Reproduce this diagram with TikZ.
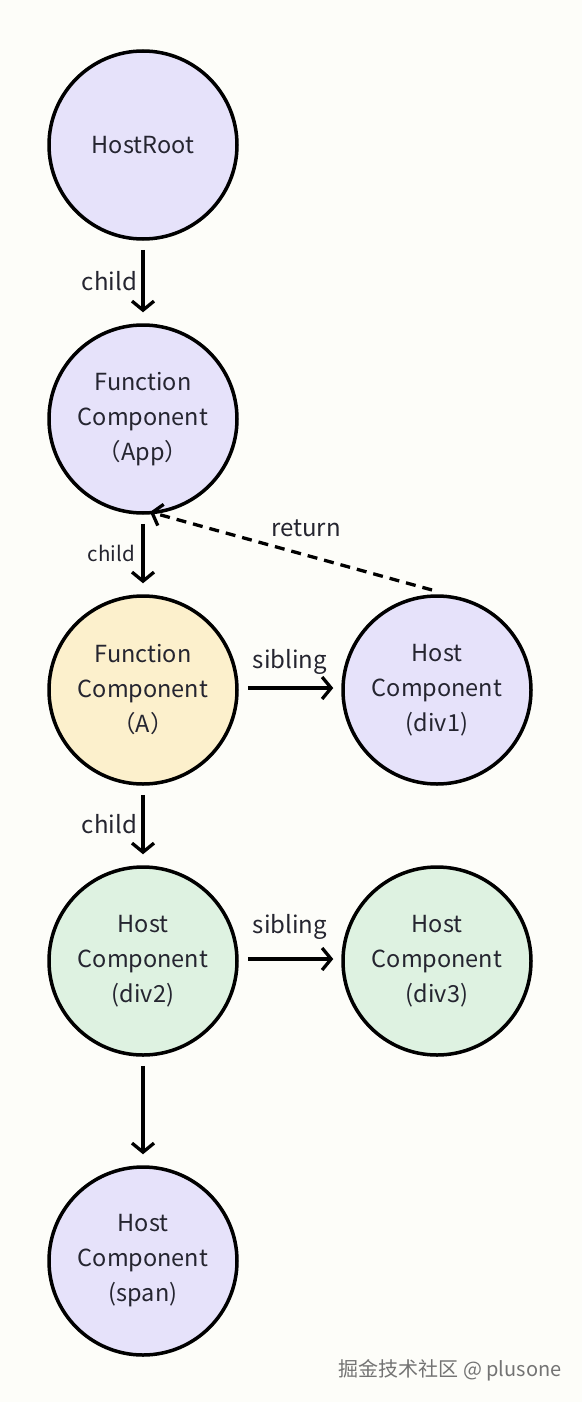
\documentclass[tikz,border=0pt]{standalone}
\usepackage{fontspec}
\setmainfont{Noto Sans CJK SC}
\usetikzlibrary{arrows.meta}
\definecolor{bg}{HTML}{FDFDF9}
\definecolor{lav}{HTML}{E6E2FA}
\definecolor{yel}{HTML}{FCF0CC}
\definecolor{grn}{HTML}{DEF2E1}
\definecolor{ink}{HTML}{252530}
\begin{document}
\begin{tikzpicture}[x=1pt,y=-1pt,
  fnode/.style={circle,draw=black,line width=3.5pt,minimum size=188pt,inner sep=0pt,
    align=center,font=\fontsize{23.5}{35}\selectfont,text=ink},
  conn/.style={line width=3.3pt,-{Straight Barb[length=9pt,width=22pt,line width=3.3pt]}},
  lbl/.style={font=\fontsize{24}{28}\selectfont,text=ink}]
\fill[bg] (0,0) rectangle (582,1402);
\useasboundingbox (0,0) rectangle (582,1402);
\node[fnode,fill=lav] (root) at (143,145) {HostRoot};
\node[fnode,fill=lav] (app) at (143,419) {Function\\Component\\（App）};
\node[fnode,fill=yel] (a) at (143,690) {Function\\Component\\（A）};
\node[fnode,fill=lav] (div1) at (437,690) {Host\\Component\\(div1)};
\node[fnode,fill=grn] (div2) at (143,961) {Host\\Component\\(div2)};
\node[fnode,fill=grn] (div3) at (437,961) {Host\\Component\\(div3)};
\node[fnode,fill=lav] (span) at (143,1261) {Host\\Component\\(span)};
\draw[conn] ([yshift=-9pt]root.south) -- ([yshift=11pt]app.north)
  node[lbl,midway,left=1pt] (l1) {child};
\draw[conn] ([yshift=-9pt]app.south) -- ([yshift=11pt]a.north)
  node[lbl,midway,left=3pt,font=\fontsize{20.5}{24}\selectfont] (l2) {child};
\draw[conn] ([yshift=-9pt]a.south) -- ([yshift=11pt]div2.north)
  node[lbl,midway,left=1pt] (l3) {child};
\draw[conn] ([yshift=-9pt]div2.south) -- ([yshift=11pt]span.north);
\draw[conn] ([xshift=9pt,yshift=2pt]a.east) -- ([xshift=-8pt,yshift=2pt]div1.west);
\node[lbl] (l4) at (290,662) {sibling};
\draw[conn] ([xshift=9pt,yshift=2pt]div2.east) -- ([xshift=-8pt,yshift=2pt]div3.west);
\node[lbl] (l5) at (290,927) {sibling};
\coordinate (rs) at (432,590);
\coordinate (re) at (150,512);
\draw[conn,dashed,dash pattern=on 10pt off 7pt] (rs) -- (re);
\node[lbl] (l6) at (306,528) {return};
\node[font=\fontsize{20}{24}\selectfont,text=black!55] (wm) at (450,1370) {掘金技术社区 @ plusone};
\end{tikzpicture}
\end{document}
